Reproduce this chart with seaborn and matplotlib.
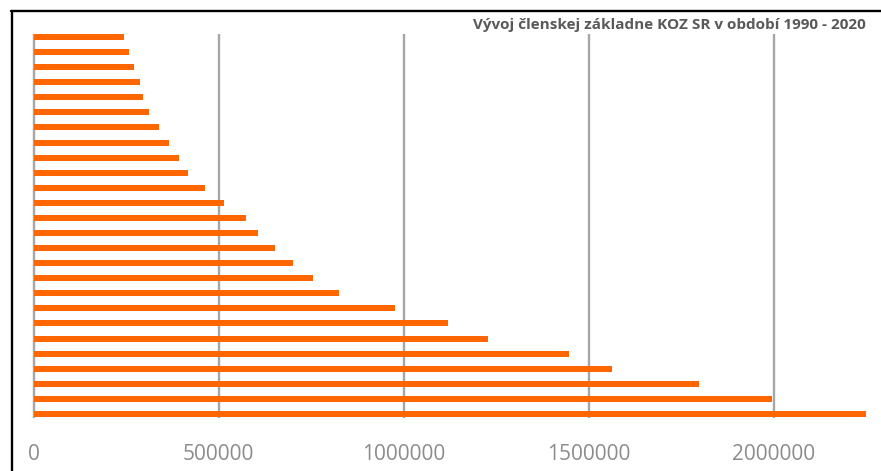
import matplotlib
matplotlib.use('Agg')
import matplotlib.pyplot as plt
from matplotlib.lines import Line2D
import seaborn as sns
import pandas as pd

# ── Data (members) ───────────────────────────────────────────
years = ['1990', '1991', '1992', '1993', '1994', '1995', '1996', '1997',
         '1998', '1999', '2000', '2001', '2002', '2003', '2004', '2005',
         '2006', '2007', '2008', '2009', '2010', '2012', '2014', '2016',
         '2018', '2020']
members = [2250000, 1996000, 1798000, 1562000, 1448000, 1228000, 1119000,
           977000, 824000, 755000, 701000, 652000, 606000, 574000, 514000,
           463000, 417000, 393000, 366000, 339000, 312000, 295000, 287000,
           271000, 258000, 244000]
x_ticks = [0, 500000, 1000000, 1500000, 2000000]
title = 'Vývoj členskej základne KOZ SR v období 1990 - 2020'

# newest year on top
df = pd.DataFrame({'rok': years[::-1], 'clenovia': members[::-1]})

sns.set_style('white')
plt.rcParams['font.family'] = ['Open Sans', 'DejaVu Sans']

W, H = 881, 471
fig = plt.figure(figsize=(W / 100, H / 100), dpi=100)

px_per_unit = 370 / 1000000
x0_px = 33.7
xmin, xmax = -4000, 2256000
left = x0_px + xmin * px_per_unit
right = x0_px + xmax * px_per_unit
top_px, bot_px = 34.3, 418
ax = fig.add_axes([left / W, 1 - bot_px / H, (right - left) / W, (bot_px - top_px) / H])

sns.barplot(data=df, x='clenovia', y='rok', color='#FF6600', saturation=1,
            width=0.4, orient='h', ax=ax, linewidth=0)

ax.set_xlim(xmin, xmax)
ax.set_ylim(25.27, -0.18)
ax.set_xticks(x_ticks)
ax.set_xticklabels([str(t) for t in x_ticks])
ax.set_yticks([])
ax.set_xlabel('')
ax.set_ylabel('')
ax.set_axisbelow(True)
ax.grid(axis='x', color='#a6a6a6', linewidth=1.7)
ax.grid(axis='y', visible=False)
for s in ax.spines.values():
    s.set_visible(False)
ax.tick_params(axis='x', length=0, pad=19, labelsize=15, labelcolor='#8c8c8c')

fig.text(866 / W, 1 - 25.5 / H, title, ha='right', va='center',
         fontsize=11.0, fontweight='bold', color='#595959')

# black frame on the left and top edge
fig.add_artist(Line2D([11.5 / W, 11.5 / W], [0, 1 - 10.5 / H], color='black', linewidth=1.7))
fig.add_artist(Line2D([10.7 / W, 1], [1 - 11.2 / H, 1 - 11.2 / H], color='black', linewidth=1.7))

fig.savefig('out.png', dpi=100)
